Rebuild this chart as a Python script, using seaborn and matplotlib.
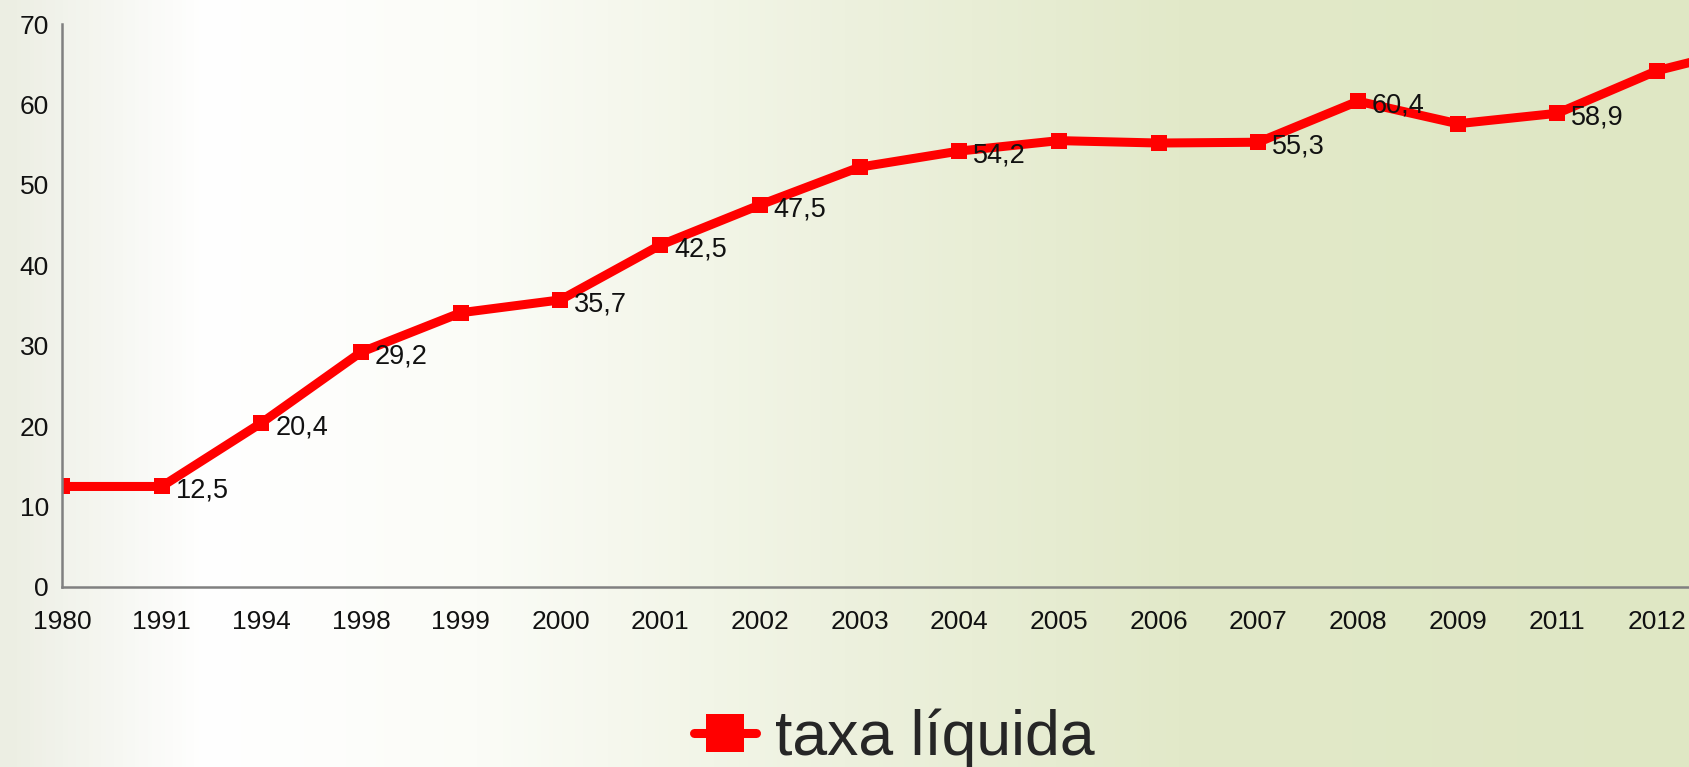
import numpy as np
import pandas as pd
import matplotlib.pyplot as plt
import seaborn as sns
from matplotlib.colors import LinearSegmentedColormap

years = ['1980', '1991', '1994', '1998', '1999', '2000', '2001', '2002', '2003',
         '2004', '2005', '2006', '2007', '2008', '2009', '2011', '2012', '2013']
taxa = [12.5, 12.5, 20.4, 29.2, 34.1, 35.7, 42.5, 47.5, 52.2,
        54.2, 55.5, 55.2, 55.3, 60.4, 57.6, 58.9, 64.2, 67.3]
labelled = ['1991', '1994', '1998', '2000', '2001', '2002', '2004', '2007', '2008', '2011']
yticks = [0, 10, 20, 30, 40, 50, 60, 70]

df = pd.DataFrame({'ano': years, 'taxa': taxa})
df['pos'] = range(len(df))

sns.set_style('white')
plt.rcParams['font.family'] = ['Liberation Sans', 'DejaVu Sans']

fig = plt.figure(figsize=(16.9, 7.67), dpi=100)

# background gradient, white on the left fading to pale green
bg = fig.add_axes([0, 0, 1, 1], zorder=-10)
cmap = LinearSegmentedColormap.from_list('bg', [
    (0.0, '#eceee3'), (0.12, '#ffffff'), (0.28, '#fbfcf7'),
    (0.5, '#edf1de'), (0.7, '#e2e9c9'), (1.0, '#dfe7c4')])
bg.imshow(np.linspace(0, 1, 400)[None, :], aspect='auto', cmap=cmap,
          extent=[0, 1, 0, 1])
bg.set_axis_off()

ax = fig.add_axes([62 / 1690, 1 - 587 / 767, 1 - 62 / 1690, (587 - 24) / 767])
ax.patch.set_alpha(0)

sns.lineplot(data=df, x='pos', y='taxa', ax=ax, color='#ff0000', linewidth=6.5,
             marker='s', markersize=11.5, markeredgewidth=0, label='taxa líquida',
             legend=False)

for _, r in df[df['ano'].isin(labelled)].iterrows():
    ax.annotate(f"{r['taxa']:.1f}".replace('.', ','), (r['pos'], r['taxa']),
                xytext=(10, -3), textcoords='offset points',
                ha='left', va='center', fontsize=19.5, color='#111111')

ax.set_xlim(0, 16.33)
ax.set_ylim(0, 70)
ax.set_xticks(df['pos'][:-1])
ax.set_xticklabels(years[:-1])
ax.set_yticks(yticks)
ax.set_xlabel('')
ax.set_ylabel('')
ax.tick_params(axis='both', direction='out', length=6.5, width=1.5, color='#808080',
               labelsize=19, labelcolor='#111111')
ax.tick_params(axis='x', pad=10)
ax.tick_params(axis='y', pad=3)
for s in ['top', 'right']:
    ax.spines[s].set_visible(False)
for s in ['left', 'bottom']:
    ax.spines[s].set_color('#808080')
    ax.spines[s].set_linewidth(1.8)

handles = [ax.lines[0]]
leg = fig.legend(handles, ['taxa líquida'], loc='center', bbox_to_anchor=(894 / 1690, 0.038),
                 frameon=False, fontsize=45, markerscale=2.4, handlelength=1.0,
                 handletextpad=0.3)

fig.savefig('out.png', dpi=100)
